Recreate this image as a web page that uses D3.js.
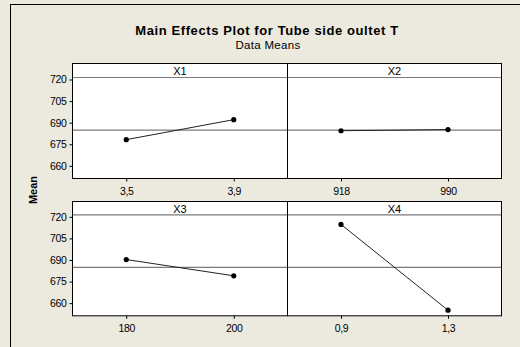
<!DOCTYPE html>
<html><head><meta charset="utf-8">
<script src="https://cdn.jsdelivr.net/npm/d3@7"></script>
<style>
html,body{margin:0;padding:0;background:#ECE9DF;}
svg{display:block;}
</style></head>
<body>
<script>
const factors = ["X1", "X2", "X3", "X4"];
const levels = [["3,5", "3,9"], ["918", "990"], ["180", "200"], ["0,9", "1,3"]];
const means = [[678.2, 692.1], [684.4, 685.2], [690.3, 679.0], [714.7, 655.1]];
const grandMean = 684.8;
const yTicks = [660, 675, 690, 705, 720];
const yDomain = [651.2, 721.4];
const title = "Main Effects Plot for Tube side oultet T";
const subtitle = "Data Means";
const yLabel = "Mean";

const W = 520, H = 347;
const svg = d3.select("body").append("svg").attr("width", W).attr("height", H);
svg.append("rect").attr("width", W).attr("height", H).attr("fill", "#ECE9DF");
// frame lines (top & left)
svg.append("line").attr("x1", 10).attr("x2", W).attr("y1", 4.5).attr("y2", 4.5).attr("stroke", "#000");
svg.append("line").attr("x1", 10.5).attr("x2", 10.5).attr("y1", 4).attr("y2", H).attr("stroke", "#000");

svg.append("text").attr("x", 267).attr("y", 34.5).attr("text-anchor", "middle")
  .style("font-family", "'Liberation Sans', Arial, sans-serif").style("font-weight", "bold").style("font-size", "13px")
  .style("letter-spacing", "0.6px")
  .text(title);
svg.append("text").attr("x", 268).attr("y", 48.5).attr("text-anchor", "middle")
  .style("font-family", "'Liberation Sans', Arial, sans-serif").style("font-size", "11.5px")
  .style("letter-spacing", "0.3px")
  .text(subtitle);
svg.append("text").attr("transform", "translate(37,190) rotate(-90)").attr("text-anchor", "middle")
  .style("font-family", "'Liberation Sans', Arial, sans-serif").style("font-weight", "bold").style("font-size", "11px")
  .text(yLabel);

const cols = [[72.5, 287.5], [287.5, 501.5]];
const rows = [{top: 63.5, strip: 77.5, bottom: 178.5}, {top: 201.5, strip: 214.8, bottom: 315.8}];
const narrow = "'Liberation Sans Narrow', 'Arial Narrow', Arial, sans-serif";

factors.forEach((f, i) => {
  const c = cols[i % 2], r = rows[Math.floor(i / 2)];
  const x = d3.scalePoint().domain(levels[i]).range(c).padding(0.5);
  const y = d3.scaleLinear().domain(yDomain).range([r.bottom, r.strip]);
  const g = svg.append("g");
  g.append("rect").attr("x", c[0]).attr("y", r.top).attr("width", c[1] - c[0]).attr("height", r.bottom - r.top)
    .attr("fill", "#fff");
  // strip line
  g.append("line").attr("x1", c[0]).attr("x2", c[1]).attr("y1", r.strip).attr("y2", r.strip)
    .attr("stroke", "#7a7a7a").attr("stroke-width", 1.2);
  g.append("text").attr("x", (c[0] + c[1]) / 2).attr("y", r.top + 11.5).attr("text-anchor", "middle")
    .style("font-family", narrow).style("font-size", "11px").attr("fill", "#000").text(f);
  // grand mean reference
  g.append("line").attr("x1", c[0]).attr("x2", c[1]).attr("y1", y(grandMean)).attr("y2", y(grandMean))
    .attr("stroke", "#7a7a7a").attr("stroke-width", 1.2);
  // line + points
  const pts = levels[i].map((l, k) => [x(l), y(means[i][k])]);
  g.append("path").attr("d", d3.line()(pts)).attr("fill", "none").attr("stroke", "#222").attr("stroke-width", 1);
  g.selectAll("circle.p").data(pts).enter().append("circle").attr("cx", d => d[0]).attr("cy", d => d[1])
    .attr("r", 2.6).attr("fill", "#000");
  // border
  g.append("rect").attr("x", c[0]).attr("y", r.top).attr("width", c[1] - c[0]).attr("height", r.bottom - r.top)
    .attr("fill", "none").attr("stroke", "#000").attr("stroke-width", 1);
  // x axis
  const xa = g.append("g").attr("transform", `translate(0,${r.bottom})`)
    .call(d3.axisBottom(x).tickSize(3).tickPadding(6));
  xa.select(".domain").remove();
  xa.selectAll("text").style("font-family", narrow).style("font-size", "10.5px")
    .style("letter-spacing", "-0.3px").attr("fill", "#000");
  // y axis on left column only
  if (i % 2 === 0) {
    const ya = g.append("g").attr("transform", `translate(${c[0]},0)`)
      .call(d3.axisLeft(y).tickValues(yTicks).tickSize(3).tickPadding(3));
    ya.select(".domain").remove();
    ya.selectAll("text").style("font-family", narrow).style("font-size", "10.5px")
      .style("letter-spacing", "-0.3px").attr("fill", "#000");
  }
});
</script>
</body></html>
